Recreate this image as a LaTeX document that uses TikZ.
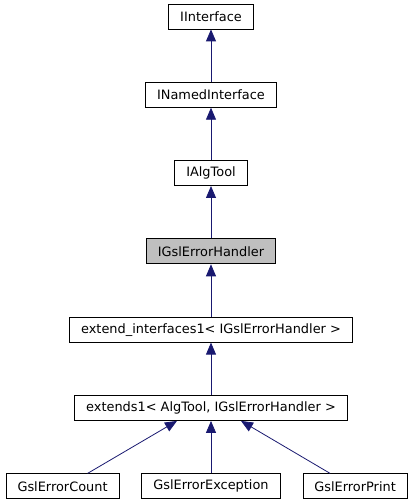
\documentclass[tikz,border=0pt]{standalone}
\usepackage{fontspec}
\setmainfont{DejaVu Sans}
\usetikzlibrary{positioning,arrows.meta}

\definecolor{navy}{HTML}{191970}
\tikzset{
  cls/.style={draw, line width=0.8pt, fill=white, inner xsep=11.5pt, minimum height=25pt,
    font=\fontsize{12.9}{14}\selectfont},
  cur/.style={cls, fill=black!25},
  inh/.style={draw=navy, line width=0.8pt, -{Triangle[length=12pt,width=10pt,fill=navy]}},
}

\begin{document}
\begin{tikzpicture}[x=1pt,y=1pt]
\useasboundingbox (0,0) rectangle (413,504);

% define nodes

% classes above
\node[cls] (ext) at (211,96) {extends1< AlgTool, IGslErrorHandler >};
\node[cls, above=52.5pt of ext] (extif) {extend\_interfaces1< IGslErrorHandler >};
\node[cur, above=52.5pt of extif] (handler) {IGslErrorHandler};
\node[cls, above=52.5pt of handler] (algtool) {IAlgTool};
\node[cls, above=52.5pt of algtool] (named) {INamedInterface};
\node[cls, above=52.5pt of named] (iface) {IInterface};

% derived classes
\node[cls, below=52.5pt of ext] (exc) {GslErrorException};
\node[cls, left=22pt of exc] (cnt) {GslErrorCount};
\node[cls, right=22pt of exc] (prt) {GslErrorPrint};

% edges

\draw[inh] (named) -- (iface);
\draw[inh] (algtool) -- (named);
\draw[inh] (handler) -- (algtool);
\draw[inh] (extif) -- (handler);
\draw[inh] (ext) -- (extif);

\draw[inh] ([xshift=25pt]cnt.north) -- ([xshift=-34pt]ext.south);
\draw[inh] (exc) -- (ext);
\draw[inh] ([xshift=-25pt]prt.north) -- ([xshift=30pt]ext.south);

\end{tikzpicture}
\end{document}
